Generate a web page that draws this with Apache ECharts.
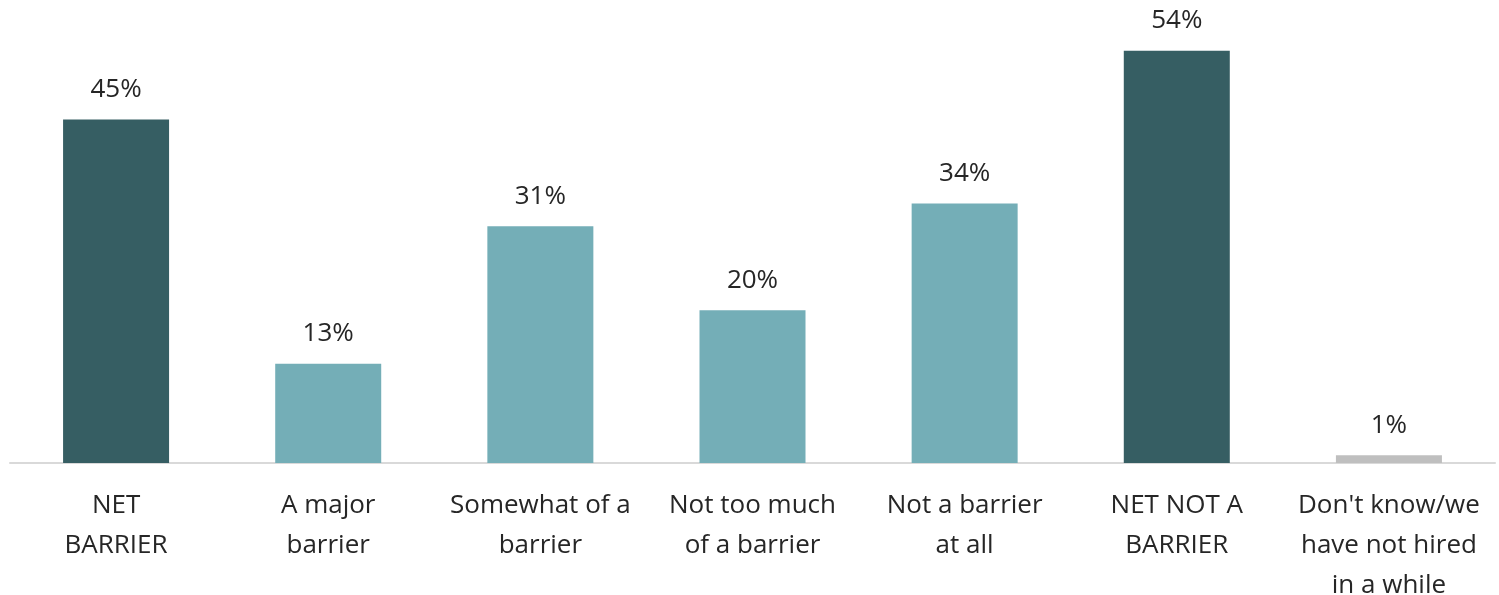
<!DOCTYPE html>
<html>
<head>
<meta charset="utf-8">
<script src="https://cdn.jsdelivr.net/npm/echarts@6/dist/echarts.min.js"></script>
<style>
  html, body { margin: 0; padding: 0; background: #fff; }
  #chart { width: 1499px; height: 595px; }
</style>
</head>
<body>
<div id="chart"></div>
<script>
// 类别与数值
const categories = [
    'NET\nBARRIER',
    'A major\nbarrier',
    'Somewhat of a\nbarrier',
    'Not too much\nof a barrier',
    'Not a barrier\nat all',
    'NET NOT A\nBARRIER',
    "Don't know/we\nhave not hired\nin a while"
];
const values = [45, 13, 31, 20, 34, 54, 1];
const barColors = ['#365E63', '#74AEB7', '#74AEB7', '#74AEB7', '#74AEB7', '#365E63', '#BFBFBF'];

const chart = echarts.init(document.getElementById('chart'));
const option = {
    animation: false,
    grid: {
        left: 10,
        right: 4,
        top: 5,
        bottom: 132,
        containLabel: false,
        outerBoundsMode: 'none'
    },
    xAxis: {
        type: 'category',
        data: categories,
        axisLine: { lineStyle: { color: '#D9D9D9', width: 2 } },
        axisTick: { show: false },
        axisLabel: {
            interval: 0,
            margin: 23,
            fontSize: 26,
            lineHeight: 40,
            color: '#262626',
            fontFamily: 'Open Sans'
        }
    },
    yAxis: {
        type: 'value',
        min: 0,
        max: 60,
        show: false,
        splitLine: { show: false }
    },
    series: [
        {
            type: 'bar',
            barWidth: 106,
            data: values.map((v, i) => ({ value: v, itemStyle: { color: barColors[i] } })),
            label: {
                show: true,
                position: 'top',
                distance: 17,
                formatter: '{c}%',
                fontSize: 26,
                color: '#262626',
                fontFamily: 'Open Sans'
            }
        }
    ]
};
chart.setOption(option);
</script>
</body>
</html>
